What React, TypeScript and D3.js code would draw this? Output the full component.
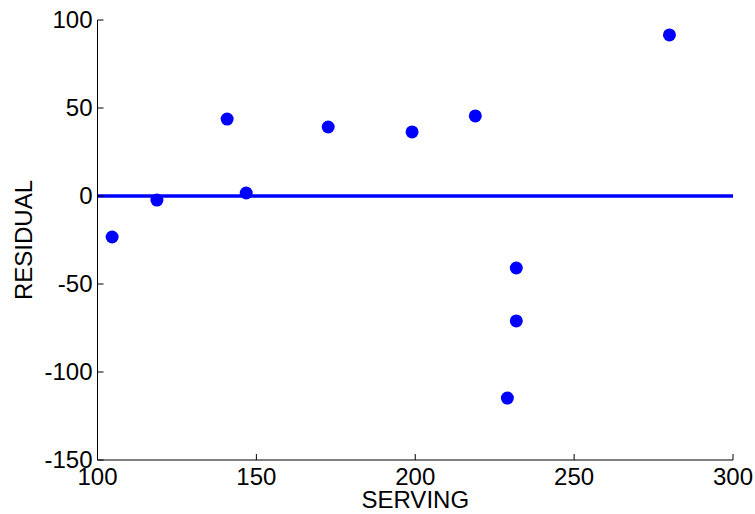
import React from "react";
import * as d3 from "d3";

const serving = [104.6, 118.7, 140.8, 146.8, 172.6, 199, 218.9, 231.8, 231.8, 229, 280];
const residual = [-23.3, -2.3, 43.7, 1.7, 39.2, 36.4, 45.5, -40.9, -71, -114.8, 91.5];
const xTicks = [100, 150, 200, 250, 300];
const yTicks = [-150, -100, -50, 0, 50, 100];

const W = 755, H = 514;
const left = 97.5, right = 733, top = 20, bottom = 460;

export default function App() {
  const x = d3.scaleLinear().domain([100, 300]).range([left, right]);
  const y = d3.scaleLinear().domain([-150, 100]).range([bottom, top]);
  const font = "Liberation Sans, Arial, sans-serif";
  const pts = serving.map((s, i) => ({ s, r: residual[i] }));
  return (
    <svg width={W} height={H} style={{ position: "absolute", left: 0, top: 0, background: "#fff" }}>
      <rect width={W} height={H} fill="#fff" />
      <line x1={x(100)} x2={x(300)} y1={y(0)} y2={y(0)} stroke="#0000ff" strokeWidth={3.5} />
      {pts.map((p, i) => (
        <circle key={i} cx={x(p.s)} cy={y(p.r)} r={6.5} fill="#0000ff" />
      ))}
      <line x1={left} x2={left} y1={top} y2={bottom} stroke="#000" strokeWidth={1} />
      <line x1={left} x2={right} y1={bottom} y2={bottom} stroke="#000" strokeWidth={1} />
      {yTicks.map((t) => (
        <g key={"y" + t}>
          <line x1={left} x2={left + 6} y1={y(t)} y2={y(t)} stroke="#000" />
          <text x={left - 5} y={y(t)} dy="0.35em" textAnchor="end" fontFamily={font} fontSize={24} fill="#000">
            {t}
          </text>
        </g>
      ))}
      {xTicks.map((t) => (
        <g key={"x" + t}>
          <line x1={x(t)} x2={x(t)} y1={bottom} y2={bottom - 6} stroke="#000" />
          <text x={x(t)} y={485} textAnchor="middle" fontFamily={font} fontSize={24} fill="#000">
            {t}
          </text>
        </g>
      ))}
      <text x={(left + right) / 2} y={508} textAnchor="middle" fontFamily={font} fontSize={24} fill="#000">
        SERVING
      </text>
      <text transform={`translate(32,${(top + bottom) / 2}) rotate(-90)`} textAnchor="middle" fontFamily={font} fontSize={24} fill="#000">
        RESIDUAL
      </text>
    </svg>
  );
}
